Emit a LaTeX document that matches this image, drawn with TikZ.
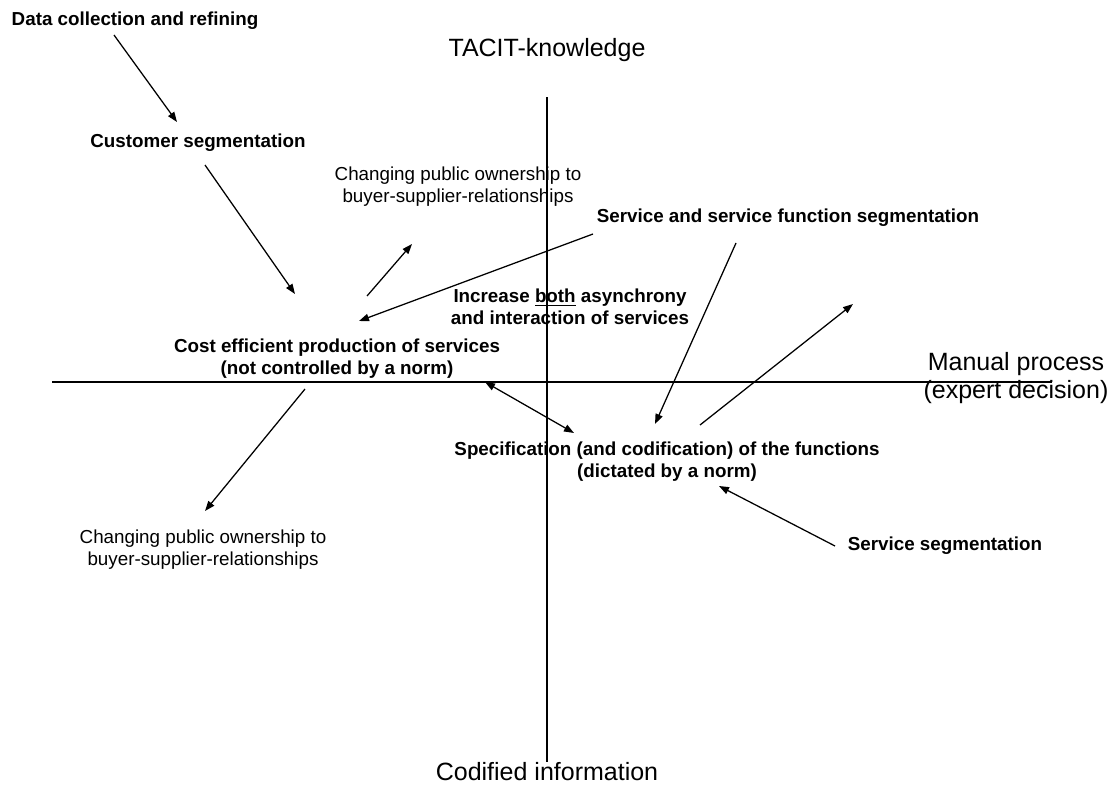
\documentclass[tikz,border=0pt]{standalone}
\usepackage{fontspec}
\setmainfont{Liberation Sans}
\usetikzlibrary{arrows.meta}
\begin{document}
\begin{tikzpicture}[x=0.75pt,y=-0.75pt,
  boldlbl/.style={font=\fontsize{14.1}{16.5}\selectfont\bfseries, align=center, inner sep=0pt},
  plainlbl/.style={font=\fontsize{14.1}{16.5}\selectfont, align=center, inner sep=0pt},
  biglbl/.style={font=\fontsize{18.75}{21}\selectfont, align=center, inner sep=0pt},
  axisline/.style={line width=0.8pt},
  arr/.style={line width=0.95pt, -{Triangle[length=7.5pt,width=5.5pt]}},
  darr/.style={line width=0.95pt, {Triangle[length=7.5pt,width=5.5pt]}-{Triangle[length=7.5pt,width=5.5pt]}}]
\useasboundingbox (0,0) rectangle (1112,785);

% axes
\coordinate (vt) at (547,97);
\coordinate (vb) at (547,762);
\coordinate (hl) at (52,382);
\coordinate (hr) at (1052,382);
\draw[axisline] (vt) -- (vb);
\draw[axisline] (hl) -- (hr);

% texts
\node[biglbl] (tacit) at (547,50) {TACIT-knowledge};
\node[biglbl] (codified) at (547,772) {Codified information};
\node[biglbl] (manual) at (1016,378) {Manual process\\(expert decision)};

\node[boldlbl] (data) at (135,21) {Data collection and refining};
\node[boldlbl] (customer) at (198,143) {Customer segmentation};
\node[plainlbl] (changeup) at (458,187) {Changing public ownership to\\buyer-supplier-relationships};
\node[boldlbl] (servfunc) at (788,218) {Service and service function segmentation};
\node[boldlbl] (increase) at (570,307) {Increase \underline{both} asynchrony\\and interaction of services};
\node[boldlbl] (cost) at (337,359) {Cost efficient production of services\\(not controlled by a norm)};
\node[boldlbl] (spec) at (667,462) {Specification (and codification) of the functions\\(dictated by a norm)};
\node[boldlbl] (servseg) at (945,546) {Service segmentation};
\node[plainlbl] (changelow) at (203,550) {Changing public ownership to\\buyer-supplier-relationships};

% arrow end points
\coordinate (a1s) at (114,35);  \coordinate (a1e) at (177,122);
\coordinate (a2s) at (205,165); \coordinate (a2e) at (295,294);
\coordinate (a3s) at (367,296); \coordinate (a3e) at (412,244);
\coordinate (a4s) at (593,234); \coordinate (a4e) at (359,321);
\coordinate (a5s) at (485,382); \coordinate (a5e) at (574,433);
\coordinate (a6s) at (736,243); \coordinate (a6e) at (655,424);
\coordinate (a7s) at (700,425); \coordinate (a7e) at (853,304);
\coordinate (a8s) at (835,546); \coordinate (a8e) at (719,486);
\coordinate (a9s) at (305,389); \coordinate (a9e) at (205,511);

\draw[arr] (a1s) -- (a1e);
\draw[arr] (a2s) -- (a2e);
\draw[arr] (a3s) -- (a3e);
\draw[arr] (a4s) -- (a4e);
\draw[darr] (a5s) -- (a5e);
\draw[arr] (a6s) -- (a6e);
\draw[arr] (a7s) -- (a7e);
\draw[arr] (a8s) -- (a8e);
\draw[arr] (a9s) -- (a9e);
\end{tikzpicture}
\end{document}
